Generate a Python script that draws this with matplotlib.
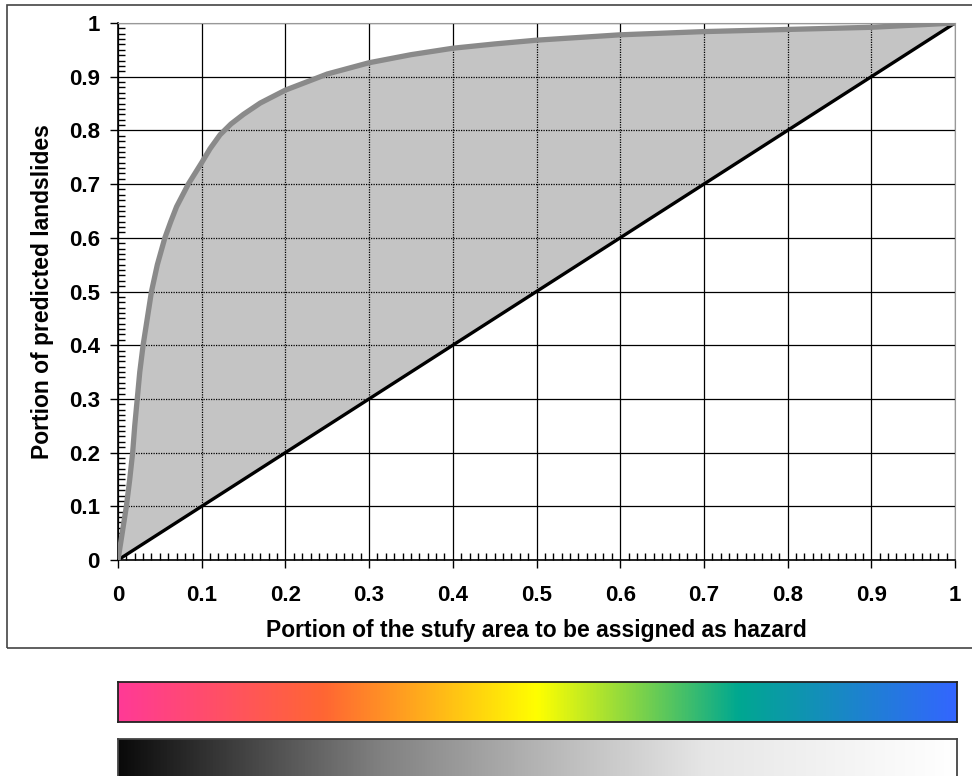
import numpy as np
import matplotlib
matplotlib.use('Agg')
import matplotlib.pyplot as plt
from matplotlib.colors import LinearSegmentedColormap
from matplotlib.patches import Rectangle

plt.rcParams['font.family'] = ['Liberation Sans', 'DejaVu Sans']

# success-rate curve
roc_x = [0, 0.005, 0.01, 0.014, 0.0175, 0.02, 0.023, 0.026, 0.03, 0.035, 0.04, 0.047, 0.056,
         0.063, 0.07, 0.084, 0.1, 0.11, 0.122, 0.135, 0.15, 0.17, 0.2, 0.25, 0.3, 0.35,
         0.4, 0.45, 0.5, 0.6, 0.7, 0.8, 0.9, 1.0]
roc_y = [0, 0.05, 0.1, 0.15, 0.2, 0.25, 0.3, 0.35, 0.4, 0.45, 0.5, 0.55, 0.6,
         0.63, 0.658, 0.7, 0.74, 0.766, 0.792, 0.812, 0.83, 0.851, 0.875, 0.905, 0.926, 0.941,
         0.953, 0.961, 0.968, 0.978, 0.984, 0.988, 0.992, 1.0]
diag = [0, 1]
ticks = [0, 0.1, 0.2, 0.3, 0.4, 0.5, 0.6, 0.7, 0.8, 0.9, 1]
tick_labels = ['0', '0.1', '0.2', '0.3', '0.4', '0.5', '0.6', '0.7', '0.8', '0.9', '1']

# colour ramps under the chart
rainbow_pos = [0, 0.245, 0.5, 0.74, 1.0]
rainbow_col = ['#ff3a96', '#ff6633', '#ffff00', '#00a890', '#3366ff']
gray_pos = [0, 0.31, 0.5, 0.7, 1.0]
gray_col = ['#0a0a0a', '#808080', '#b4b4b4', '#e6e6e6', '#ffffff']

W, H = 972, 776
fig = plt.figure(figsize=(W / 100, H / 100), dpi=100)

# outer frame around the chart
fig.patches.append(Rectangle((7 / W, 1 - 648 / H), 1.0, 643 / H, transform=fig.transFigure,
                             fill=False, edgecolor='#444444', linewidth=1.2))

ax = fig.add_axes([118 / W, 1 - 560 / H, 837 / W, 537 / H])
ax.set_xlim(0, 1)
ax.set_ylim(0, 1)

for t in ticks:
    ax.axvline(t, color='black', linewidth=0.9, zorder=1)
    ax.axhline(t, color='black', linewidth=0.9, zorder=1)

poly = ax.fill(roc_x, roc_y, facecolor='#c4c4c4', edgecolor='none', zorder=2)[0]

# grid shows through the shading as dotted lines
for t in ticks[1:-1]:
    for ln in (ax.axvline(t, color='black', linewidth=0.9, linestyle=(0, (1, 1)), zorder=3),
               ax.axhline(t, color='black', linewidth=0.9, linestyle=(0, (1, 1)), zorder=3)):
        ln.set_clip_path(poly)

ax.plot(diag, diag, color='black', linewidth=2.4, zorder=4)
ax.plot(roc_x, roc_y, color='#8a8a8a', linewidth=3.8, zorder=5,
        solid_capstyle='round', solid_joinstyle='round')

ax.set_xticks(ticks)
ax.set_xticklabels(tick_labels, fontweight='bold')
ax.set_yticks(ticks)
ax.set_yticklabels(tick_labels, fontweight='bold')
ax.set_xticks(np.arange(0, 1.001, 0.01), minor=True)
ax.set_yticks(np.arange(0, 1.001, 0.01), minor=True)
ax.tick_params(which='major', direction='out', length=6, width=1, labelsize=16, colors='black')
ax.tick_params(axis='x', which='major', pad=12)
ax.tick_params(axis='y', which='major', pad=7)
ax.tick_params(which='minor', direction='in', length=5, width=1)
for s in ['left', 'bottom']:
    ax.spines[s].set_linewidth(1.2)
for s in ['top', 'right']:
    ax.spines[s].set_color('#999999')

ax.set_xlabel('Portion of the stufy area to be assigned as hazard', fontsize=16.5,
              fontweight='bold', labelpad=9)
ax.set_ylabel('Portion of predicted landslides', fontsize=16.5, fontweight='bold', labelpad=11)

grad = np.linspace(0, 1, 512).reshape(1, -1)

cax1 = fig.add_axes([118 / W, 1 - 722 / H, 839 / W, 40 / H])
cmap1 = LinearSegmentedColormap.from_list('rb', list(zip(rainbow_pos, rainbow_col)))
cax1.imshow(grad, aspect='auto', cmap=cmap1, extent=[0, 1, 0, 1])
cax1.set_xticks([])
cax1.set_yticks([])
for s in cax1.spines.values():
    s.set_linewidth(1.3)
    s.set_color('#222222')

cax2 = fig.add_axes([118 / W, 1 - 792 / H, 839 / W, 53 / H])
cmap2 = LinearSegmentedColormap.from_list('gr', list(zip(gray_pos, gray_col)))
cax2.imshow(grad, aspect='auto', cmap=cmap2, extent=[0, 1, 0, 1])
cax2.set_xticks([])
cax2.set_yticks([])
for s in cax2.spines.values():
    s.set_linewidth(1.3)
    s.set_color('#444444')

fig.savefig('out.png', dpi=100)
